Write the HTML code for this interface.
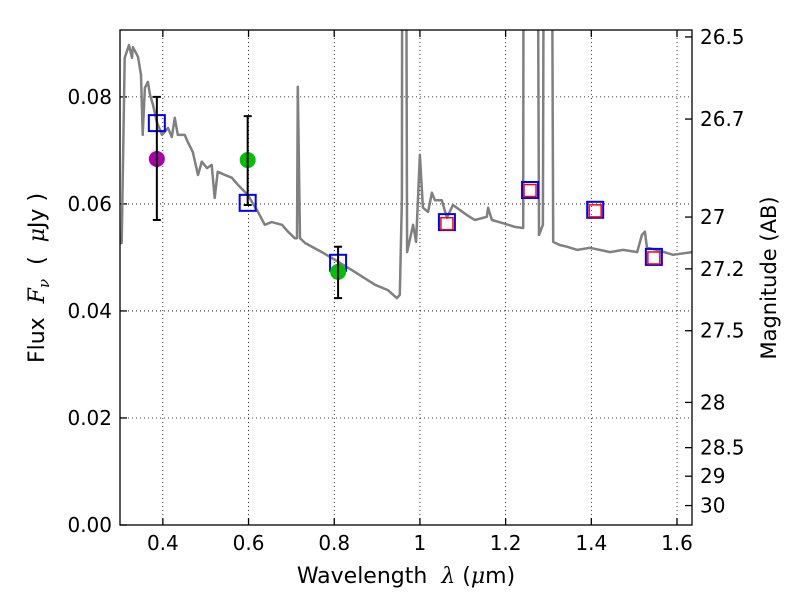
<!DOCTYPE html>
<html><head><meta charset="utf-8"><style>
html,body{margin:0;padding:0;background:#fff}
svg{display:block;font-family:"DejaVu Sans","Liberation Sans",sans-serif}
</style></head><body>
<svg id="chart" width="800" height="600" viewBox="0 0 800 600" xmlns="http://www.w3.org/2000/svg" style="position:absolute;left:0;top:0"></svg>
<script>
const specLambda=[0.300,0.304,0.311,0.321,0.328,0.330,0.342,0.349,0.353,0.358,0.365,0.370,0.377,0.386,0.398,0.412,0.421,0.428,0.435,0.451,0.458,0.470,0.482,0.491,0.503,0.514,0.521,0.528,0.545,0.561,0.575,0.598,0.622,0.638,0.654,0.678,0.692,0.708,0.713,0.715,0.720,0.732,0.771,0.809,0.848,0.895,0.925,0.946,0.953,0.958,0.960,0.965,0.970,0.984,0.991,1.000,1.007,1.019,1.028,1.035,1.051,1.063,1.077,1.110,1.128,1.156,1.159,1.168,1.194,1.222,1.241,1.243,1.271,1.278,1.287,1.292,1.304,1.311,1.327,1.343,1.367,1.397,1.444,1.474,1.507,1.518,1.525,1.530,1.553,1.591,1.635];
const specFlux=[0.0527,0.0527,0.0873,0.0897,0.0873,0.0893,0.0875,0.0841,0.0729,0.0817,0.0828,0.0804,0.0785,0.0753,0.0729,0.0742,0.0725,0.0761,0.0729,0.0729,0.0716,0.0697,0.0654,0.0679,0.0667,0.0673,0.0611,0.0660,0.0654,0.0649,0.0636,0.0617,0.0585,0.0561,0.0566,0.0561,0.0548,0.0536,0.0536,0.0819,0.0536,0.0527,0.0510,0.0492,0.0473,0.0449,0.0439,0.0424,0.0430,0.0610,0.2,0.2,0.0510,0.0561,0.0529,0.0692,0.0593,0.0585,0.0621,0.0607,0.0607,0.0574,0.0598,0.0579,0.0570,0.0576,0.0593,0.0570,0.0564,0.0557,0.0555,0.2,0.2,0.0542,0.0561,0.2,0.2,0.0529,0.0523,0.0520,0.0514,0.0518,0.0510,0.0514,0.0510,0.0542,0.0548,0.0518,0.0514,0.0505,0.0510];
const blueLambda=[0.386,0.598,0.809,1.063,1.257,1.409,1.546];
const blueFlux=[0.0751,0.0602,0.0490,0.0566,0.0626,0.0589,0.0501];
const redLambda=[1.063,1.257,1.409,1.546];
const redFlux=[0.0563,0.0625,0.0587,0.0499];
const ptLambda=[0.386,0.598,0.809];
const ptFlux=[0.0684,0.0682,0.0473];
const ptLow=[0.0570,0.0598,0.0424];
const ptHigh=[0.0800,0.0764,0.0520];
const ptColor=["#aa00aa","#00c000","#00c000"];
const xTicks=[0.4,0.6,0.8,1.0,1.2,1.4,1.6];
const xTickLabels=["0.4","0.6","0.8","1","1.2","1.4","1.6"];
const yTicks=[0,0.02,0.04,0.06,0.08];
const yTickLabels=["0.00","0.02","0.04","0.06","0.08"];
const magTicks=[26.5,26.7,27,27.2,27.5,28,28.5,29,30];

const L=120,R=692,T=30,B=525,xmin=0.30,xmax=1.635,ymin=0,ymax=0.0925;
const X=v=>L+(v-xmin)/(xmax-xmin)*(R-L);
const Y=v=>B-(v-ymin)/(ymax-ymin)*(B-T);
const svg=document.getElementById('chart');
const NS='http://www.w3.org/2000/svg';
function mk(tag,attrs,parent){const e=document.createElementNS(NS,tag);for(const k in attrs)e.setAttribute(k,attrs[k]);(parent||svg).appendChild(e);return e;}
const defs=mk('defs',{});const cp=mk('clipPath',{id:'pc'},defs);mk('rect',{x:L,y:T,width:R-L,height:B-T},cp);

const grid=mk('g',{});


xTicks.forEach((t,i)=>{const x=X(t);
 mk('line',{x1:x,x2:x,y1:T,y2:B,stroke:'#000','stroke-dasharray':'1,3','stroke-width':0.8},grid);
 mk('line',{x1:x,x2:x,y1:B,y2:B-7,stroke:'#000','stroke-width':1.3});mk('line',{x1:x,x2:x,y1:T,y2:T+7,stroke:'#000','stroke-width':1.3});
 const tx=mk('text',{x:x,y:B+25,'font-size':20,'text-anchor':'middle'});tx.textContent=xTickLabels[i];
 
 
});
yTicks.forEach((t,i)=>{const y=Y(t);
 mk('line',{x1:L,x2:R,y1:y,y2:y,stroke:'#000','stroke-dasharray':'1,3','stroke-width':0.8},grid);
 mk('line',{x1:L,x2:L+7,y1:y,y2:y,stroke:'#000','stroke-width':1.3});
 const tx=mk('text',{x:L-8,y:y+7,'font-size':20,'text-anchor':'end'});tx.textContent=yTickLabels[i];
 
 
});
magTicks.forEach(m=>{const f=Math.pow(10,(23.9-m)/2.5);const y=Y(f);
 mk('line',{x1:R,x2:R-7,y1:y,y2:y,stroke:'#000','stroke-width':1.3});
 const tx=mk('text',{x:R+8,y:y+7,'font-size':20});tx.textContent=String(m);
 
 
});

const g=mk('g',{'clip-path':'url(#pc)'});
let d='';specLambda.forEach((l,i)=>{d+=(i?'L':'M')+X(l).toFixed(1)+','+Y(specFlux[i]).toFixed(1);});
const sp=mk('path',{d:d,fill:'none',stroke:'#808080','stroke-width':2.5,'stroke-linejoin':'round'},g);


blueLambda.forEach((l,i)=>{const r=mk('rect',{x:X(l)-8,y:Y(blueFlux[i])-8,width:16,height:16,fill:'none',stroke:'#0000ff','stroke-width':2},g);
 
 });
redLambda.forEach((l,i)=>{const r=mk('rect',{x:X(l)-6,y:Y(redFlux[i])-6,width:12,height:12,fill:'none',stroke:'#ff0000','stroke-width':1.5},g);
 
 });
ptLambda.forEach((l,i)=>{const x=X(l);
 const c=mk('circle',{cx:x,cy:Y(ptFlux[i]),r:8,fill:ptColor[i]},g);
 
 
 const eb=mk('g',{stroke:'#000','stroke-width':2},g);
 
 
 mk('line',{x1:x,x2:x,y1:Y(ptLow[i]),y2:Y(ptHigh[i])},eb);
 mk('line',{x1:x-4,x2:x+4,y1:Y(ptLow[i]),y2:Y(ptLow[i])},eb);
 mk('line',{x1:x-4,x2:x+4,y1:Y(ptHigh[i]),y2:Y(ptHigh[i])},eb);
});
mk('rect',{x:L,y:T,width:R-L,height:B-T,fill:'none',stroke:'#000','stroke-width':1.3});
</script>
<svg style="position:absolute;left:0;top:0" width="800" height="600">
<text x="406" y="583" font-size="22" text-anchor="middle" font-family="DejaVu Sans, sans-serif" xml:space="preserve">Wavelength  <tspan font-style="italic" font-family="DejaVu Serif, serif">λ</tspan> (<tspan font-style="italic" font-family="DejaVu Serif, serif">μ</tspan>m)</text>
<text transform="translate(44,278) rotate(-90)" font-size="22" text-anchor="middle" font-family="DejaVu Sans, sans-serif" xml:space="preserve">Flux  <tspan font-style="italic" font-family="DejaVu Serif, serif">F</tspan><tspan font-style="italic" font-size="15" dy="5" font-family="DejaVu Serif, serif">ν</tspan><tspan dy="-5">  (  </tspan><tspan font-style="italic" font-family="DejaVu Serif, serif">μ</tspan>Jy )</text>
<text transform="translate(776,278) rotate(-90)" font-size="21" text-anchor="middle" font-family="DejaVu Sans, sans-serif">Magnitude (AB)</text>
</svg>
</body></html>
